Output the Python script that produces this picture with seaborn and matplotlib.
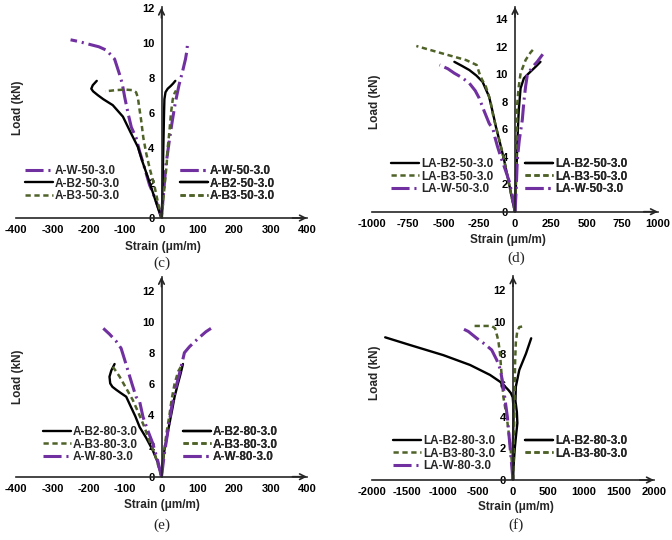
import matplotlib
matplotlib.use("Agg")
import matplotlib.pyplot as plt
import seaborn as sns

# ---------------- data (strain in µm/m, load in kN) ----------------
# Panel (c)
C_W_L_X = [0, -15, -33, -47, -60, -70, -83, -92, -101, -108, -115, -129, -151, -172, -200, -227, -250]
C_W_L_Y = [0, 1, 1.9, 2.9, 3.8, 4.6, 5.2, 6.0, 6.9, 7.7, 8.2, 9.1, 9.6, 9.8, 9.95, 10.1, 10.2]
C_W_R_X = [0, 6, 12, 22, 30, 38, 48, 58, 66, 70, 72]
C_W_R_Y = [0, 1.5, 3, 4.5, 5.6, 6.6, 7.6, 8.4, 9.1, 9.6, 10.1]
C_B2_L_X = [0, -15, -38, -52, -65, -85, -106, -134, -160, -175, -188, -193, -189, -178]
C_B2_L_Y = [0, 0.9, 2.36, 3.2, 4.07, 4.9, 5.8, 6.46, 6.8, 7.03, 7.25, 7.4, 7.6, 7.85]
C_B2_R_X = [0, 2, 3, 4, 5, 6, 7, 8, 11, 17, 25, 32, 38]
C_B2_R_Y = [0, 1, 2, 3, 4, 5, 6, 6.8, 7.2, 7.4, 7.55, 7.7, 7.85]
C_B3_L_X = [0, -10, -19, -32, -42, -50, -56, -61, -65, -70, -80, -100, -125, -155]
C_B3_L_Y = [0, 0.9, 1.8, 2.8, 3.7, 4.6, 5.6, 6.3, 6.9, 7.2, 7.32, 7.35, 7.32, 7.25]
C_B3_R_X = [0, 5, 9, 14, 17, 22, 26, 31, 36, 40]
C_B3_R_Y = [0, 1, 2, 3, 4, 5, 6, 6.8, 7.15, 7.3]

# Panel (d)
D_B2_L_X = [0, -19, -45, -76, -105, -134, -155, -181, -227, -270, -319, -370, -424]
D_B2_L_Y = [0, 0.85, 2.2, 3.76, 5.0, 6.2, 7.2, 8.36, 9.45, 9.9, 10.3, 10.6, 10.9]
D_B2_R_X = [0, 5, 10, 15, 20, 27, 39, 62, 90, 120, 150, 178]
D_B2_R_Y = [0, 1.5, 3, 4.5, 6, 7.5, 8.97, 9.7, 10.0, 10.3, 10.6, 10.9]
D_B3_L_X = [0, -19, -45, -76, -105, -134, -155, -169, -185, -204, -230, -245, -268, -343, -505, -690]
D_B3_L_Y = [0, 0.85, 2.2, 3.76, 5.0, 6.2, 7.1, 7.88, 8.5, 9.1, 9.6, 9.94, 10.67, 11.03, 11.5, 12.05]
D_B3_R_X = [0, 4, 8, 12, 16, 25, 39, 74, 110, 139]
D_B3_R_Y = [0, 1.5, 3, 5, 7.88, 9.0, 10.07, 11.03, 11.6, 11.93]
D_W_L_X = [0, -15, -40, -76, -100, -123, -140, -153, -181, -215, -250, -278, -319, -370, -424, -470, -528]
D_W_L_Y = [0, 1, 2.2, 3.3, 4.0, 4.76, 5.4, 5.97, 6.43, 7.3, 8.25, 8.8, 9.34, 9.75, 10.07, 10.4, 10.67]
D_W_R_X = [0, 8, 16, 30, 51, 62, 74, 86, 120, 155, 194]
D_W_R_Y = [0, 1.5, 3.76, 5.2, 6.67, 8.0, 9.1, 9.94, 10.5, 10.9, 11.45]

# Panel (e)
E_B2_L_X = [0, -10, -24, -42, -60, -72, -84, -97, -112, -124, -135, -141, -143, -138, -129]
E_B2_L_Y = [0, 0.9, 1.7, 2.5, 3.2, 3.9, 4.5, 5.16, 5.4, 5.6, 5.8, 6.02, 6.45, 6.85, 7.27]
E_B2_R_X = [0, 4, 8, 15, 22, 30, 36, 44, 52, 59]
E_B2_R_Y = [0, 1, 1.7, 2.6, 3.44, 4.4, 5.16, 5.9, 6.6, 7.27]
E_B3_L_X = [0, -19, -33, -47, -63, -79, -97, -115, -128, -141]
E_B3_L_Y = [0, 1.5, 2.3, 3.2, 4.1, 4.95, 5.7, 6.45, 6.9, 7.27]
E_B3_R_X = [0, 4, 9, 15, 22, 28, 36, 46, 56]
E_B3_R_Y = [0, 1, 2, 3, 4, 5, 6, 6.8, 7.2]
E_W_L_X = [0, -10, -24, -38, -51, -60, -70, -80, -90, -102, -111, -125, -143, -160]
E_W_L_Y = [0, 1, 2.15, 3.0, 3.87, 4.84, 5.16, 5.9, 6.67, 7.6, 8.28, 8.75, 9.2, 9.57]
E_W_R_X = [0, 8, 18, 28, 40, 52, 57, 63, 77, 100, 122, 136]
E_W_R_Y = [0, 1.5, 3, 4.5, 5.8, 6.9, 7.4, 8.0, 8.39, 8.9, 9.35, 9.57]

# Panel (f)
F_B2_L_X = [0, -5, -3, 2, 8, 5, -4, -30, -66, -120, -184, -326, -609, -987, -1459, -1813]
F_B2_L_Y = [0, 1, 2, 3, 4, 4.7, 5.23, 5.5, 5.7, 5.95, 6.22, 6.65, 7.28, 7.9, 8.54, 9.03]
F_B2_R_X = [0, 10, 25, 45, 62, 55, 35, 40, 89, 184, 258]
F_B2_R_Y = [0, 1, 2, 2.9, 3.6, 4.3, 5.0, 5.9, 6.96, 8.0, 8.97]
F_B3_L_X = [0, -4, -42, -89, -137, -160, -184, -205, -222, -255, -302, -450, -580]
F_B3_L_Y = [0, 0.6, 2.32, 4.0, 5.27, 6.54, 8.0, 8.7, 9.07, 9.6, 9.75, 9.75, 9.75]
F_B3_R_X = [0, 10, 18, 24, 30, 40, 60, 90, 140]
F_B3_R_Y = [0, 2, 4, 6, 7.5, 8.7, 9.4, 9.68, 9.72]
F_W_L_X = [0, -20, -40, -60, -80, -110, -140, -180, -231, -302, -400, -514, -633, -751]
F_W_L_Y = [0, 1, 2, 3, 4, 5, 6, 7, 7.6, 8.23, 8.6, 8.97, 9.4, 9.66]

# tick values
X_TICKS_SMALL = [-400, -300, -200, -100, 0, 100, 200, 300, 400]
X_TICKS_D = [-1000, -750, -500, -250, 0, 250, 500, 750, 1000]
X_TICKS_F = [-2000, -1500, -1000, -500, 0, 500, 1000, 1500, 2000]
Y_TICKS_12 = [0, 2, 4, 6, 8, 10, 12]
Y_TICKS_14 = [0, 2, 4, 6, 8, 10, 12, 14]

# ---------------- style ----------------
sns.set_theme(style="white")
plt.rcParams["font.family"] = ["Liberation Sans", "DejaVu Sans"]
plt.rcParams["font.weight"] = "bold"
plt.rcParams["axes.unicode_minus"] = False
plt.rcParams["lines.scale_dashes"] = False

PURPLE = "#7030A0"
GREEN = "#4F6228"
BLACK = "#000000"
AXC = "#262626"

STY = {
    "W": dict(color=PURPLE, lw=2.2, ls=(0, (13, 3.5, 1.5, 3.5))),
    "B2": dict(color=BLACK, lw=1.7, ls="-"),
    "B3": dict(color=GREEN, lw=1.8, ls=(0, (3.8, 2.6))),
}

W_PX, H_PX = 672, 540
fig = plt.figure(figsize=(W_PX / 100, H_PX / 100), dpi=100)


def fx(px):
    return px / W_PX


def fy(py):
    return 1 - py / H_PX


def make_axes(x0, x1, y0, ys, xlim, ytop, xticks, yticks):
    top_px = y0 - ys * ytop
    ax = fig.add_axes([fx(x0), fy(y0), (x1 - x0) / W_PX, (y0 - top_px) / H_PX])
    ax.set_xlim(*xlim)
    ax.set_ylim(0, ytop)
    ax.set_facecolor("none")
    for s in ("top", "right"):
        ax.spines[s].set_visible(False)
    ax.spines["left"].set_position(("data", 0))
    ax.spines["bottom"].set_position(("data", 0))
    for s in ("left", "bottom"):
        ax.spines[s].set_color(AXC)
        ax.spines[s].set_linewidth(1.2)
    ax.set_xticks(xticks)
    ax.set_yticks(yticks)
    ax.tick_params(axis="both", direction="out", length=3, width=1.1, color=AXC,
                   labelsize=8, pad=2, labelcolor="black")
    for lab in ax.get_xticklabels() + ax.get_yticklabels():
        lab.set_fontweight("bold")
    ax.annotate("", xy=(1.0, 0), xycoords=("axes fraction", "data"),
                xytext=(0.95, 0), textcoords=("axes fraction", "data"),
                arrowprops=dict(arrowstyle="->", lw=1.2, color=AXC,
                                shrinkA=0, shrinkB=0, mutation_scale=10))
    ax.annotate("", xy=(0, 1.0), xycoords=("data", "axes fraction"),
                xytext=(0, 0.95), textcoords=("data", "axes fraction"),
                arrowprops=dict(arrowstyle="->", lw=1.2, color=AXC,
                                shrinkA=0, shrinkB=0, mutation_scale=10))
    ax.set_xlabel("")
    ax.set_ylabel("")
    return ax


def draw(ax, xs, ys, key):
    st = STY[key]
    sns.lineplot(x=xs, y=ys, ax=ax, sort=False, estimator=None, legend=False,
                 color=st["color"], linewidth=st["lw"], linestyle=st["ls"])
    return ax.lines[-1]


def add_legend(ax, handles, labels, hx, ry):
    fs = 8.5
    leg = ax.legend(handles, labels, loc="upper left",
                    bbox_to_anchor=(fx(hx), fy(ry - 7)), bbox_transform=fig.transFigure,
                    frameon=False, borderpad=0, borderaxespad=0,
                    handlelength=2.4, handletextpad=0.15, labelspacing=0.05,
                    prop=dict(family="Liberation Sans", weight="bold", size=fs))
    ax.add_artist(leg)
    return leg


def labels(xl_cx, xl_cy, yl_cx, yl_cy, cap, cap_cx, cap_cy):
    fig.text(fx(xl_cx), fy(xl_cy), "Strain (μm/m)", ha="center", va="center",
             fontsize=8.5, fontweight="bold")
    fig.text(fx(yl_cx), fy(yl_cy), "Load (kN)", ha="center", va="center",
             rotation=90, fontsize=8.5, fontweight="bold")
    fig.text(fx(cap_cx), fy(cap_cy), cap, ha="center", va="center",
             fontsize=11, family="Liberation Serif", fontweight="normal")


# ---------------- panel (c) ----------------
ax = make_axes(16, 307, 218, 17.47, (-400, 400), 12.05, X_TICKS_SMALL, Y_TICKS_12)
l1 = draw(ax, C_W_L_X, C_W_L_Y, "W")
l2 = draw(ax, C_B2_L_X, C_B2_L_Y, "B2")
l3 = draw(ax, C_B3_L_X, C_B3_L_Y, "B3")
r1 = draw(ax, C_W_R_X, C_W_R_Y, "W")
r2 = draw(ax, C_B2_R_X, C_B2_R_Y, "B2")
r3 = draw(ax, C_B3_R_X, C_B3_R_Y, "B3")
names = ["A-W-50-3.0", "A-B2-50-3.0", "A-B3-50-3.0"]
add_legend(ax, [l1, l2, l3], names, 25, 172)
add_legend(ax, [r1, r2, r3], names, 180, 172)
labels(163, 247, 18, 108, "(c)", 162, 263)

# ---------------- panel (d) ----------------
ax = make_axes(372, 658, 211.7, 13.75, (-1000, 1000), 14.9, X_TICKS_D, Y_TICKS_14)
l1 = draw(ax, D_B2_L_X, D_B2_L_Y, "B2")
l2 = draw(ax, D_B3_L_X, D_B3_L_Y, "B3")
l3 = draw(ax, D_W_L_X, D_W_L_Y, "W")
r1 = draw(ax, D_B2_R_X, D_B2_R_Y, "B2")
r2 = draw(ax, D_B3_R_X, D_B3_R_Y, "B3")
r3 = draw(ax, D_W_R_X, D_W_R_Y, "W")
names = ["LA-B2-50-3.0", "LA-B3-50-3.0", "LA-W-50-3.0"]
add_legend(ax, [l1, l2, l3], names, 391, 165)
add_legend(ax, [r1, r2, r3], names, 525, 165)
labels(508, 240, 375, 102, "(d)", 516, 258)

# ---------------- panel (e) ----------------
ax = make_axes(16, 307, 476.7, 15.5, (-400, 400), 12.9, X_TICKS_SMALL, Y_TICKS_12)
l1 = draw(ax, E_B2_L_X, E_B2_L_Y, "B2")
l2 = draw(ax, E_B3_L_X, E_B3_L_Y, "B3")
l3 = draw(ax, E_W_L_X, E_W_L_Y, "W")
r1 = draw(ax, E_B2_R_X, E_B2_R_Y, "B2")
r2 = draw(ax, E_B3_R_X, E_B3_R_Y, "B3")
r3 = draw(ax, E_W_R_X, E_W_R_Y, "W")
names = ["A-B2-80-3.0", "A-B3-80-3.0", "A-W-80-3.0"]
add_legend(ax, [l1, l2, l3], names, 43, 433)
add_legend(ax, [r1, r2, r3], names, 183, 433)
labels(162, 505, 18, 377, "(e)", 162, 525)

# ---------------- panel (f) ----------------
ax = make_axes(372, 654, 480, 15.8, (-2000, 2000), 12.9, X_TICKS_F, Y_TICKS_12)
l1 = draw(ax, F_B2_L_X, F_B2_L_Y, "B2")
l2 = draw(ax, F_B3_L_X, F_B3_L_Y, "B3")
l3 = draw(ax, F_W_L_X, F_W_L_Y, "W")
r1 = draw(ax, F_B2_R_X, F_B2_R_Y, "B2")
r2 = draw(ax, F_B3_R_X, F_B3_R_Y, "B3")
names = ["LA-B2-80-3.0", "LA-B3-80-3.0", "LA-W-80-3.0"]
add_legend(ax, [l1, l2, l3], names, 393, 442)
add_legend(ax, [r1, r2], names[:2], 525, 442)
labels(516, 507, 375, 373, "(f)", 516, 525)

fig.savefig("out.png", dpi=100, facecolor="white")
